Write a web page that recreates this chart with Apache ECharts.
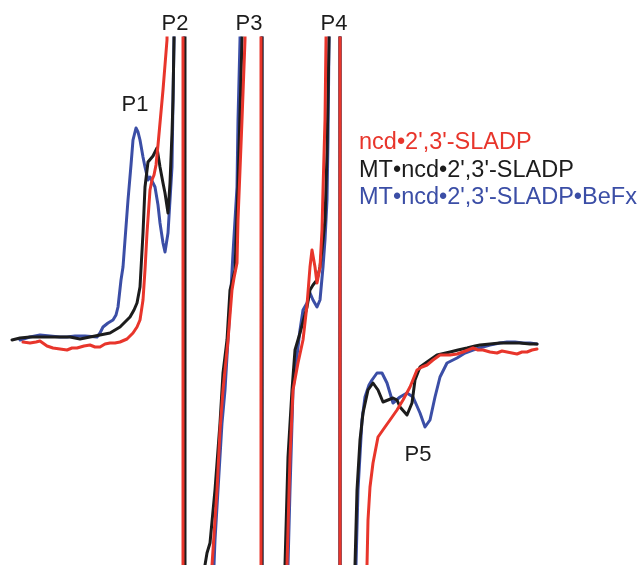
<!DOCTYPE html>
<html>
<head>
<meta charset="UTF-8">
<title>EPR spectra</title>
<script src="https://cdn.jsdelivr.net/npm/echarts@6/dist/echarts.min.js"></script>
<style>
  html, body { margin: 0; padding: 0; background: #fff; }
  #main { width: 638px; height: 565px; }
</style>
</head>
<body>
<div id="main"></div>
<script>
// field position (arb. units) / signal amplitude (arb. units)
// values past +/- the visible range are the clipped central lines
var seriesNames = ["ncd\u20222',3'-SLADP", "MT\u2022ncd\u20222',3'-SLADP", "MT\u2022ncd\u20222',3'-SLADP\u2022BeFx"];
var seriesColors = ['#e8352b', '#1c1c1c', '#3b4ea6'];

var redData = [
  [23, -2], [30, -3], [36, -2], [40, -1], [47, -6], [53, -8], [60, -9], [67, -10], [72, -8], [77, -8],
  [84, -6], [90, -5], [95, -7], [100, -7], [105, -4], [110, -3], [115, -3], [120, -2], [127, 1], [133, 7],
  [137, 13], [140, 20], [143, 40], [145, 70], [147, 107], [150, 150], [152, 160], [154, 165], [156, 175],
  [158, 195], [160, 217], [163, 250], [165, 275], [167, 300], [168, 400],
  [183, 400], [183, -300],
  [211, -260], [212, -225], [217, -150], [220, -90], [223, -50], [228, 0], [232, 50], [234, 62], [237, 77],
  [238, 120], [242, 220], [245, 300], [246, 400],
  [261, 400], [261, -300],
  [286, -260], [287, -225], [290, -117], [293, -50], [298, -23], [303, 0], [307, 35], [310, 73], [312, 90],
  [315, 73], [317, 57], [318, 57], [320, 73], [322, 110], [323, 150], [325, 220], [326, 300], [327, 400],
  [340, 400], [340, -300],
  [366, -260], [367, -225], [368, -180], [370, -147], [373, -123], [378, -97], [385, -87], [390, -80],
  [397, -70], [403, -60], [410, -47], [417, -30], [422, -27], [427, -25], [433, -20], [440, -15], [450, -15],
  [457, -14], [463, -12], [468, -10], [473, -8], [478, -10], [483, -10], [490, -12], [497, -13], [502, -11],
  [507, -12], [512, -13], [517, -14], [522, -12], [527, -12], [532, -10], [537, -9]
];

var blackData = [
  [12, 0], [20, 2], [30, 3], [40, 3], [50, 3], [60, 3], [70, 3], [75, 2], [80, 1], [85, 2], [90, 3],
  [100, 5], [110, 7], [115, 10], [120, 13], [125, 18], [130, 23], [134, 30], [137, 37], [140, 53],
  [143, 107], [145, 153], [148, 178], [150, 180], [153, 184], [155, 188], [157, 192], [160, 173],
  [163, 157], [165, 147], [168, 127], [170, 157], [172, 207], [173, 240], [174, 300], [175, 400],
  [185, 400], [185, -300],
  [204, -260], [205, -225], [207, -213], [210, -203], [215, -150], [220, -83], [223, -33], [227, 0],
  [230, 50], [235, 70], [238, 153], [242, 300], [243, 400],
  [262, 400], [262, -300],
  [284, -260], [285, -225], [288, -117], [292, -50], [295, -10], [300, 7], [307, 33], [310, 50],
  [313, 55], [317, 60], [320, 73], [323, 100], [325, 120], [327, 187], [329, 300], [330, 400],
  [340, 400], [340, -300],
  [354, -260], [355, -225], [357, -150], [360, -100], [363, -73], [368, -50], [373, -43], [378, -50],
  [383, -62], [388, -60], [393, -58], [397, -60], [400, -67], [407, -75], [412, -63], [415, -40],
  [420, -27], [427, -22], [437, -15], [450, -12], [458, -10], [467, -8], [475, -6], [480, -5],
  [490, -4], [500, -3], [510, -3], [520, -3], [530, -4], [537, -4]
];

var blueData = [
  [20, 0], [30, 3], [40, 5], [50, 4], [60, 3], [67, 3], [75, 4], [85, 4], [97, 3], [100, 7], [103, 13],
  [108, 17], [113, 20], [116, 25], [118, 33], [121, 60], [123, 73], [125, 100], [128, 140], [131, 175],
  [133, 200], [136, 212], [138, 208], [140, 200], [143, 183], [145, 173], [148, 160], [150, 163],
  [152, 165], [155, 153], [158, 135], [160, 117], [163, 97], [165, 88], [166, 88], [168, 107],
  [170, 140], [172, 173], [173, 240], [174, 300], [175, 400],
  [184, 400], [184, -300],
  [213, -260], [214, -225], [215, -200], [218, -150], [222, -83], [225, -50], [229, 17], [231, 50],
  [233, 87], [237, 153], [238, 220], [240, 300], [241, 400],
  [262, 400], [262, -300],
  [287, -260], [288, -225], [290, -150], [293, -50], [300, 10], [303, 30], [307, 37], [310, 47],
  [313, 40], [317, 33], [320, 40], [323, 73], [325, 100], [327, 140], [328, 200], [329, 300], [330, 400],
  [340, 400], [340, -300],
  [355, -260], [356, -225], [358, -150], [362, -80], [365, -57], [369, -45], [372, -40], [377, -33],
  [382, -33], [387, -43], [393, -63], [400, -57], [407, -53], [413, -57], [420, -73], [425, -87],
  [430, -80], [435, -57], [440, -37], [447, -23], [457, -18], [465, -13], [473, -10], [483, -7],
  [490, -5], [500, -3], [507, -2], [515, -2], [523, -3], [530, -3], [537, -4]
];

var peakLabels = ['P1', 'P2', 'P3', 'P4', 'P5'];

var chart = echarts.init(document.getElementById('main'));

var font = '22px "Liberation Sans", Arial, sans-serif';
var legendFont = '23.5px "Liberation Sans", Arial, sans-serif';
var labelPos = [[135, 105], [175, 24], [249, 24], [334, 24], [418, 455]];
var graphics = [];
for (var i = 0; i < peakLabels.length; i++) {
  graphics.push({
    type: 'text', x: labelPos[i][0], y: labelPos[i][1],
    style: { text: peakLabels[i], font: font, fill: '#1c1c1c', textAlign: 'center', textVerticalAlign: 'middle' }
  });
}
for (var j = 0; j < seriesNames.length; j++) {
  graphics.push({
    type: 'text', x: 359, y: 143 + j * 27.5,
    style: { text: seriesNames[j], font: legendFont, fill: seriesColors[j], textAlign: 'left', textVerticalAlign: 'middle' }
  });
}

function lineSeries(name, data, color) {
  return {
    name: name, type: 'line', data: data, showSymbol: false, clip: true,
    lineStyle: { color: color, width: 3, join: 'round', cap: 'round' }
  };
}

chart.setOption({
  animation: false,
  grid: { left: 0, right: 0, top: 38, bottom: 0 },
  xAxis: { type: 'value', min: 0, max: 638, show: false },
  yAxis: { type: 'value', min: -225, max: 302, show: false },
  graphic: graphics,
  series: [
    lineSeries(seriesNames[2], blueData, seriesColors[2]),
    lineSeries(seriesNames[1], blackData, seriesColors[1]),
    lineSeries(seriesNames[0], redData, seriesColors[0])
  ]
});
</script>
</body>
</html>
